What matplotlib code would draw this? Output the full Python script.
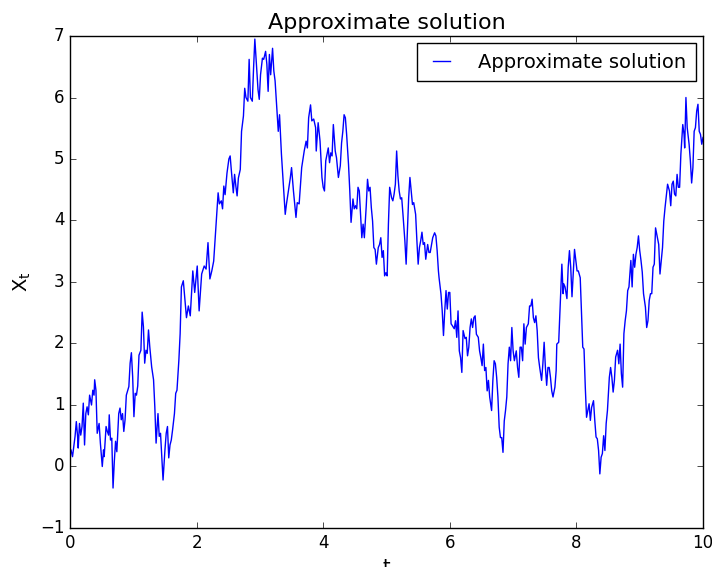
import matplotlib
matplotlib.use("Agg")
import matplotlib.pyplot as plt

plt.style.use("classic")

t_values = [
    0.0, 0.016, 0.04, 0.08, 0.10, 0.12, 0.13, 0.15, 0.17, 0.19, 0.21, 0.23, 0.25, 0.27, 0.29,
    0.31, 0.34, 0.36, 0.38, 0.39, 0.41, 0.43, 0.46, 0.48, 0.51, 0.53, 0.54, 0.57, 0.59, 0.61,
    0.62, 0.64, 0.66, 0.68, 0.70, 0.72, 0.74, 0.77, 0.79, 0.81, 0.83, 0.85, 0.87, 0.89, 0.93,
    0.95, 0.97, 0.99, 1.01, 1.03, 1.05, 1.07, 1.09, 1.12, 1.14, 1.16, 1.18, 1.20, 1.22, 1.24,
    1.26, 1.29, 1.32, 1.34, 1.36, 1.39, 1.41, 1.43, 1.45, 1.47, 1.50, 1.52, 1.54, 1.56, 1.58,
    1.60, 1.62, 1.65, 1.67, 1.69, 1.72, 1.74, 1.76,
    1.79, 1.82, 1.84, 1.87, 1.90, 1.94, 1.97, 2.01, 2.04, 2.08, 2.12, 2.15, 2.18, 2.21, 2.24,
    2.27, 2.31, 2.34, 2.36, 2.39, 2.41, 2.43, 2.45, 2.48, 2.51, 2.53, 2.55, 2.58, 2.60, 2.62,
    2.64, 2.66, 2.69, 2.71, 2.74, 2.76, 2.78, 2.81, 2.83, 2.85, 2.88, 2.90, 2.92, 2.95, 2.97,
    2.99, 3.01, 3.04, 3.06, 3.09, 3.11, 3.13, 3.15, 3.17, 3.20, 3.22, 3.24, 3.27, 3.29, 3.31,
    3.34, 3.36, 3.38, 3.40, 3.42, 3.45, 3.48, 3.50, 3.53, 3.55, 3.57, 3.59, 3.62,
    3.66, 3.70, 3.73, 3.75, 3.77, 3.80, 3.82, 3.85, 3.88, 3.89, 3.92, 3.95, 3.98, 4.00, 4.02,
    4.04, 4.08, 4.10, 4.12, 4.14, 4.16, 4.19, 4.21, 4.24, 4.27, 4.29, 4.31, 4.33, 4.35, 4.37,
    4.40, 4.42, 4.44, 4.47, 4.49, 4.51, 4.53, 4.55, 4.57, 4.59, 4.61, 4.63, 4.65, 4.68, 4.70,
    4.72, 4.74, 4.76, 4.78, 4.80, 4.82, 4.84, 4.87, 4.89, 4.91, 4.93, 4.95, 4.97, 4.99, 5.01,
    5.03, 5.05, 5.08, 5.10, 5.12, 5.14, 5.16, 5.18, 5.20, 5.22, 5.24, 5.26, 5.29, 5.31, 5.33,
    5.35, 5.37, 5.39, 5.41, 5.43, 5.46, 5.48, 5.50, 5.52, 5.54, 5.56, 5.58, 5.60, 5.62, 5.65,
    5.67,
    5.69, 5.73, 5.76, 5.78, 5.80, 5.82, 5.83, 5.86, 5.88, 5.90, 5.92, 5.94, 5.96, 5.98, 6.00,
    6.02, 6.04, 6.07, 6.09, 6.11, 6.13, 6.15, 6.17, 6.19, 6.21, 6.24, 6.26, 6.28, 6.30, 6.32,
    6.34, 6.36, 6.38, 6.40, 6.42, 6.45, 6.47, 6.49, 6.51, 6.53, 6.55, 6.57, 6.59, 6.61, 6.63,
    6.66, 6.68, 6.70, 6.72, 6.74, 6.76, 6.78, 6.80, 6.82, 6.84, 6.86, 6.88, 6.90, 6.92, 6.94,
    6.96, 6.98, 7.00, 7.02, 7.05, 7.07, 7.09, 7.11, 7.13, 7.15, 7.17, 7.19, 7.21, 7.24, 7.26,
    7.28, 7.30, 7.32, 7.34, 7.36, 7.38, 7.40, 7.42, 7.45, 7.47, 7.49, 7.51, 7.53, 7.55, 7.57,
    7.59, 7.61, 7.63, 7.66, 7.68, 7.69, 7.72,
    7.77, 7.79, 7.80, 7.82, 7.85, 7.87, 7.89, 7.91, 7.93, 7.95, 7.97, 7.99, 8.01, 8.03, 8.06,
    8.08, 8.10, 8.12, 8.14, 8.16, 8.18, 8.20, 8.22, 8.24, 8.27, 8.29, 8.31, 8.33, 8.35, 8.37,
    8.39, 8.41, 8.43, 8.45, 8.47, 8.49, 8.52, 8.54, 8.56, 8.58, 8.60, 8.62, 8.65, 8.67, 8.69,
    8.71, 8.73, 8.75, 8.77, 8.79, 8.81, 8.83, 8.86, 8.88, 8.90, 8.92, 8.94, 8.96, 8.98, 9.00,
    9.02, 9.04, 9.06, 9.09, 9.11, 9.13, 9.15, 9.17, 9.19, 9.21, 9.23, 9.25, 9.28, 9.30, 9.32,
    9.34, 9.36, 9.38, 9.40, 9.42, 9.44, 9.47, 9.49, 9.51, 9.53, 9.55, 9.57, 9.59, 9.61, 9.63,
    9.65, 9.68, 9.70, 9.71, 9.73, 9.75, 9.78, 9.80, 9.82, 9.84, 9.86, 9.88, 9.90, 9.92, 9.94,
    9.96, 9.98, 10.0,
]

x_values = [
    0.20, 0.27, 0.16, 0.49, 0.73, 0.49, 0.30, 0.70, 0.51, 0.65, 1.03, 0.35, 0.86, 0.97, 0.84,
    1.16, 1.00, 1.24, 1.16, 1.41, 1.24, 0.54, 0.70, 0.38, 0.00, 0.27, 0.16, 0.65, 0.57, 0.51,
    0.84, 0.43, 0.46, -0.35, 0.08, 0.41, 0.24, 0.86, 0.95, 0.76, 0.86, 0.57, 0.76, 1.16, 1.30,
    1.68, 1.85, 1.46, 0.81, 1.19, 1.16, 1.31, 1.81, 1.89, 2.51, 2.27, 1.68, 1.89, 1.84, 2.22,
    1.95, 1.62, 1.41, 0.97, 0.38, 0.86, 0.49, 0.54, 0.16, -0.22, 0.27, 0.54, 0.65, 0.14, 0.35,
    0.43, 0.59, 0.86, 1.19, 1.24, 1.73, 2.16, 2.92,
    3.02, 2.65, 2.42, 2.61, 2.45, 3.18, 2.83, 3.26, 2.53, 3.13, 3.26, 3.21, 3.64, 3.05, 3.18,
    3.34, 3.99, 4.45, 4.27, 4.32, 4.19, 4.56, 4.42, 4.77, 5.00, 5.05, 4.80, 4.45, 4.75, 4.56,
    4.40, 4.69, 4.83, 5.45, 5.70, 6.15, 6.00, 5.94, 6.62, 6.00, 5.94, 6.48, 6.95, 6.46, 6.13,
    5.97, 6.37, 6.64, 6.62, 6.75, 6.54, 6.10, 6.70, 6.37, 6.80, 6.43, 6.27, 5.78, 5.45, 5.72,
    5.08, 4.75, 4.40, 4.10, 4.27, 4.48, 4.69, 4.86, 4.48, 4.27, 4.05, 4.29, 4.27,
    4.86, 5.13, 5.29, 5.18, 5.67, 5.88, 5.62, 5.65, 5.51, 5.13, 5.59, 5.29, 4.70, 4.54, 4.48,
    4.97, 5.18, 4.94, 5.10, 5.05, 5.56, 5.13, 5.02, 4.70, 4.89, 5.26, 5.45, 5.72, 5.67, 5.40,
    4.91, 4.48, 3.97, 4.35, 4.19, 4.24, 4.19, 4.54, 4.48, 4.10, 3.72, 3.94, 3.72, 4.24, 4.67,
    4.48, 4.54, 4.21, 3.99, 3.56, 3.53, 3.29, 3.56, 3.61, 3.72, 3.40, 3.51, 3.10, 3.15, 3.10,
    3.94, 4.54, 4.37, 4.32, 4.43, 4.59, 5.13, 4.73, 4.48, 4.35, 4.37, 4.10, 3.67, 3.29, 3.83,
    4.37, 4.70, 4.48, 4.26, 4.29, 4.10, 3.67, 3.29, 3.56, 3.67, 3.81, 3.61, 3.64, 3.37, 3.61,
    3.48,
    3.48, 3.72, 3.80, 3.75, 3.51, 3.18, 3.07, 2.81, 2.53, 2.13, 2.53, 2.86, 2.56, 2.83, 2.83,
    2.32, 2.29, 2.24, 2.37, 2.10, 2.53, 1.88, 1.77, 1.53, 2.21, 2.08, 2.10, 1.80, 1.94, 2.26,
    2.40, 2.26, 2.42, 2.45, 2.15, 2.10, 1.88, 1.77, 1.64, 1.99, 1.56, 1.61, 1.23, 1.40, 1.13,
    0.91, 1.40, 1.72, 1.67, 1.45, 1.13, 0.64, 0.47, 0.47, 0.23, 0.74, 0.91, 1.13, 1.67, 1.94,
    1.72, 2.26, 1.88, 1.72, 1.88, 1.61, 1.45, 1.94, 1.94, 1.72, 2.32, 1.99, 2.26, 2.32, 2.61,
    2.61, 2.72, 2.42, 2.34, 2.45, 2.21, 1.77, 1.61, 1.40, 1.67, 2.02, 1.61, 1.32, 1.61, 1.61,
    1.45, 1.23, 1.13, 1.29, 1.56, 1.99, 2.02,
    3.29, 2.81, 2.97, 2.92, 2.73, 3.24, 3.51, 3.24, 2.76, 3.16, 3.53, 3.35, 3.18, 3.18, 3.07,
    2.48, 1.94, 1.91, 1.29, 0.80, 0.91, 1.02, 0.75, 0.96, 1.07, 0.75, 0.48, 0.45, 0.26, -0.12,
    0.15, 0.21, 0.50, 0.26, 0.70, 0.91, 1.45, 1.61, 1.45, 1.21, 1.40, 1.78, 1.89, 1.67, 1.99,
    1.51, 1.29, 2.16, 2.37, 2.53, 2.86, 2.92, 3.35, 2.92, 3.45, 3.24, 3.45, 3.56, 3.75, 3.51,
    3.35, 3.16, 2.81, 2.59, 2.26, 2.37, 2.70, 2.81, 2.81, 3.24, 3.29, 3.88, 3.72, 3.61, 3.13,
    3.35, 3.56, 3.99, 4.21, 4.40, 4.59, 4.48, 4.24, 4.59, 4.64, 4.43, 4.40, 4.75, 4.54, 4.54,
    5.08, 5.56, 5.40, 5.18, 6.00, 5.51, 5.24, 4.97, 4.61, 4.86, 5.45, 5.51, 5.78, 5.89, 5.45,
    5.40, 5.24, 5.35,
]

x_ticks = [0, 2, 4, 6, 8, 10]
y_ticks = [-1, 0, 1, 2, 3, 4, 5, 6, 7]

fig = plt.figure(figsize=(7.12, 5.67), dpi=100, facecolor="white")
ax = fig.add_axes([0.0983, 0.0688, 0.8891, 0.8677])
ax.plot(t_values, x_values, color="b", linewidth=1.0, label="Approximate solution")
ax.set_xlim(0, 10)
ax.set_ylim(-1, 7)
ax.set_xticks(x_ticks)
ax.set_yticks(y_ticks)
ax.set_title("Approximate solution", fontsize=16)
ax.set_xlabel("t", fontsize=14)
ax.set_ylabel(r"$\mathregular{X_t}$", fontsize=14)
ax.tick_params(labelsize=12)
ax.legend(loc="upper right", fontsize=14, numpoints=2, handlelength=1.5,
          handletextpad=1.15, borderpad=0.5, borderaxespad=0.35)
fig.savefig("out.png", dpi=100, facecolor="white")
